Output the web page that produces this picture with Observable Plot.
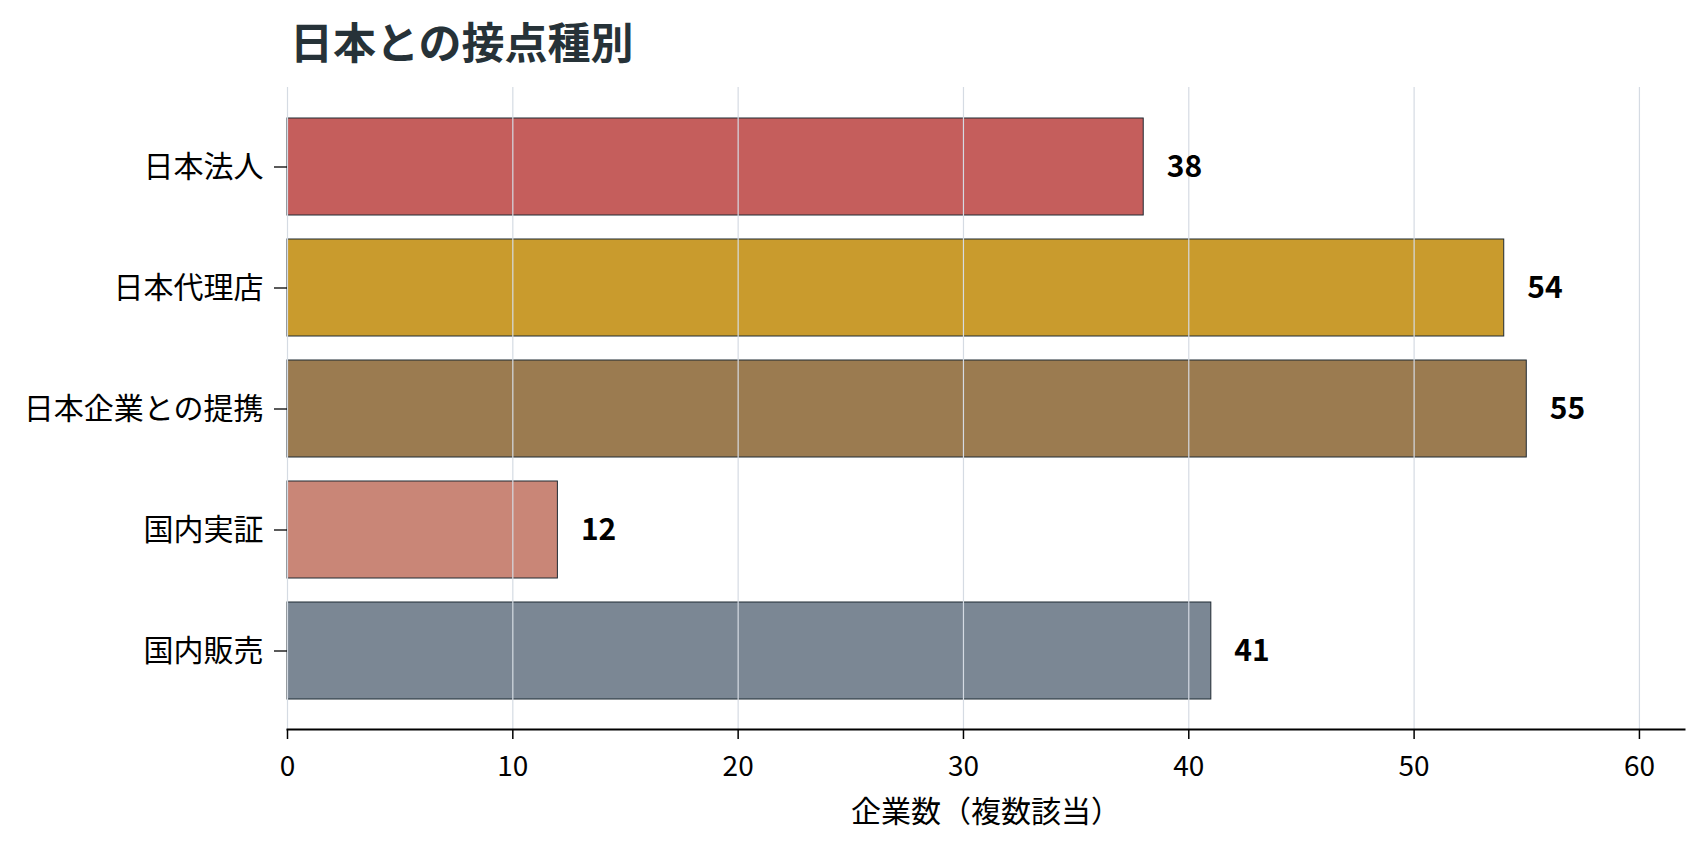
<!DOCTYPE html>
<html>
<head>
<meta charset="utf-8">
<script src="https://cdn.jsdelivr.net/npm/d3@7"></script>
<script src="https://cdn.jsdelivr.net/npm/@observablehq/plot@0.6"></script>
<style>
  html, body { margin: 0; padding: 0; background: #ffffff; }
  body { width: 1707px; height: 848px; position: relative; overflow: hidden; font-family: "Noto Sans CJK JP", "Noto Sans", sans-serif; }
  #title { position: absolute; left: 290px; top: 19px; font-size: 43px; line-height: 43px; font-weight: 700; color: #263238; white-space: nowrap; }
  #chart { position: absolute; left: 0; top: 80px; }
</style>
</head>
<body>
<div id="title">日本との接点種別</div>
<div id="chart"></div>
<script>
const categories = ["日本法人", "日本代理店", "日本企業との提携", "国内実証", "国内販売"];
const counts = [38, 54, 55, 12, 41];
const barColors = ["#c55e5c", "#c99b2d", "#9b7b50", "#c98677", "#7b8794"];
const xTicks = [0, 10, 20, 30, 40, 50, 60];
const xLabel = "企業数（複数該当）";

const data = categories.map((c, i) => ({category: c, count: counts[i]}));

const plot = Plot.plot({
  width: 1707,
  height: 768,
  marginTop: 7,
  marginBottom: 119,
  marginLeft: 287,
  marginRight: 23,
  style: {fontFamily: "'Noto Sans CJK JP', sans-serif", fontSize: "28px", color: "#000", background: "#fff"},
  x: {domain: [0, 62], ticks: xTicks, label: null},
  y: {domain: categories, paddingInner: 0.2, paddingOuter: 0.24, label: null},
  color: {domain: categories, range: barColors},
  marks: [
    Plot.barX(data, {x: "count", y: "category", fill: "category", stroke: "#1f2a33", strokeWidth: 1}),
    Plot.ruleX(xTicks, {stroke: "#d5dbe3", strokeWidth: 1.2}),
    Plot.text(data, {x: "count", y: "category", text: d => String(d.count), textAnchor: "start", dx: 23, fontWeight: 700, fontSize: 30, fill: "#000"}),
    Plot.axisY({tickSize: 13, tickPadding: 11, fontSize: 30, label: null, stroke: "#000", strokeWidth: 1.3}),
    Plot.axisX({ticks: xTicks, tickSize: 10, tickPadding: 17, fontSize: 28, label: null, stroke: "#000", strokeWidth: 1.5}),
    Plot.frame({anchor: "bottom", stroke: "#000", strokeWidth: 2}),
    Plot.text([xLabel], {frameAnchor: "bottom", lineAnchor: "top", dy: 71, fontSize: 30, fill: "#000"})
  ]
});
document.getElementById("chart").appendChild(plot);
</script>
</body>
</html>
